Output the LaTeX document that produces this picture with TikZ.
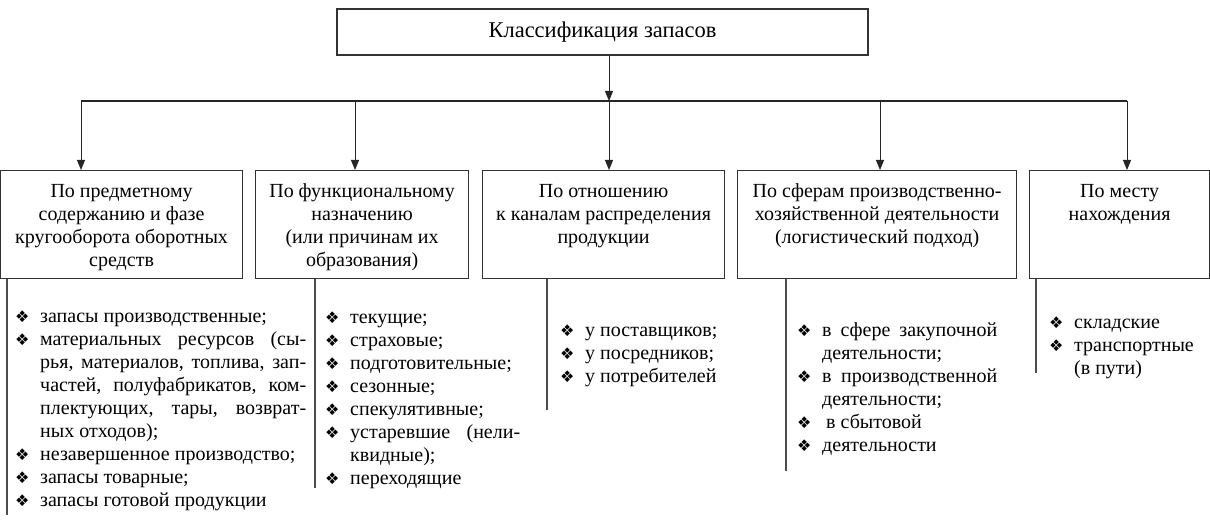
\documentclass[tikz,border=0pt]{standalone}
\usepackage{fontspec}
\setmainfont{Liberation Serif}
\newfontfamily\symfont{DejaVu Sans}
\usetikzlibrary{arrows.meta}
\newcommand{\zbul}{\hspace*{-3pt}{\symfont\fontsize{16}{16}\selectfont ❖}}
\newcommand{\zitem}{\par\noindent\hangindent=22pt\hangafter=1\strut\makebox[22pt][l]{\zbul}}

\begin{document}
\begin{tikzpicture}[x=1pt, y=-1pt,
		head/.style={draw=black!80, line width=1.2pt, minimum width=531pt, minimum height=46pt, inner sep=0pt, font=\fontsize{22.5}{26}\selectfont},
		kind/.style={draw=black!80, line width=1.2pt, inner sep=0pt, anchor=north west,
			execute at begin node={\begin{minipage}[t][108pt][t]{#1}\centering\fontsize{20}{23}\selectfont\vspace*{10.6pt}\strut},
			execute at end node={\end{minipage}}},
		zlist/.style={anchor=north west, inner sep=0pt, text width=#1, align=justify, font=\fontsize{20}{23}\selectfont},
		arr/.style={draw=black!85, line width=1pt, -{Triangle[length=10pt, width=8pt]}},
		wire/.style={draw=black!85, line width=1.2pt},
		branch/.style={draw=black!70, line width=1.2pt}]
		\useasboundingbox (0,0) rectangle (1210,521);
		\node[head] (top) at (602.5,32) {Классификация запасов};
		\node[kind=242pt] (b1) at (0,170) {По предметному\\содержанию и фазе\\кругооборота оборотных\\средств};
		\node[kind=213pt] (b2) at (255,170) {По функциональному\\назначению\\(или причинам их\\образования)};
		\node[kind=242pt] (b3) at (482,170) {По отношению\\к каналам распределения\\продукции};
		\node[kind=279pt] (b4) at (737,170) {По сферам производственно-\\хозяйственной деятельности\\(логистический подход)};
		\node[kind=180pt] (b5) at (1029,170) {По месту\\нахождения};
		\coordinate (bus) at (609,101);
		\draw[arr] (bus |- top.south) -- (bus);
		\foreach \i/\x in {1/81, 2/355, 3/609, 4/880, 5/1127} {
			\coordinate (d\i) at (\x,101);
			\draw[arr] (d\i) -- (d\i |- b\i.north);
		}
		\draw[wire] (d1) -- (d5);
		\node[zlist=288pt] (l1) at (18,299) {\zitem запасы производственные;
			\zitem материальных ресурсов (сы-\linebreak рья, материалов, топлива, зап-\linebreak частей, полуфабрикатов, ком-\linebreak плектующих, тары, возврат-\linebreak ных отходов);
			\zitem незавершенное производство;
			\zitem запасы товарные;
			\zitem запасы готовой продукции\par};
		\node[zlist=192pt] (l2) at (328,300) {\zitem текущие;
			\zitem страховые;
			\zitem подготовительные;
			\zitem сезонные;
			\zitem спекулятивные;
			\zitem устаревшие (нели-\linebreak квидные);
			\zitem переходящие\par};
		\node[zlist=160pt] (l3) at (563,313) {\zitem у поставщиков;
			\zitem у посредников;
			\zitem у потребителей\par};
		\node[zlist=197pt] (l4) at (800,313) {\zitem в сфере закупочной\linebreak деятельности;
			\zitem в производственной\linebreak деятельности;
			\zitem\hspace{4pt}в сбытовой
			\zitem деятельности\par};
		\node[zlist=150pt] (l5) at (1052,305) {\zitem складские
			\zitem транспортные\hfill\break (в пути)\par};
		\foreach \i/\x/\y in {1/7/515, 2/315/488, 3/547/410, 4/786/471, 5/1036/373} {
			\coordinate (e\i) at (\x,\y);
			\draw[branch] (e\i |- b\i.south) -- (e\i);
		}
	\end{tikzpicture}
\end{document}
